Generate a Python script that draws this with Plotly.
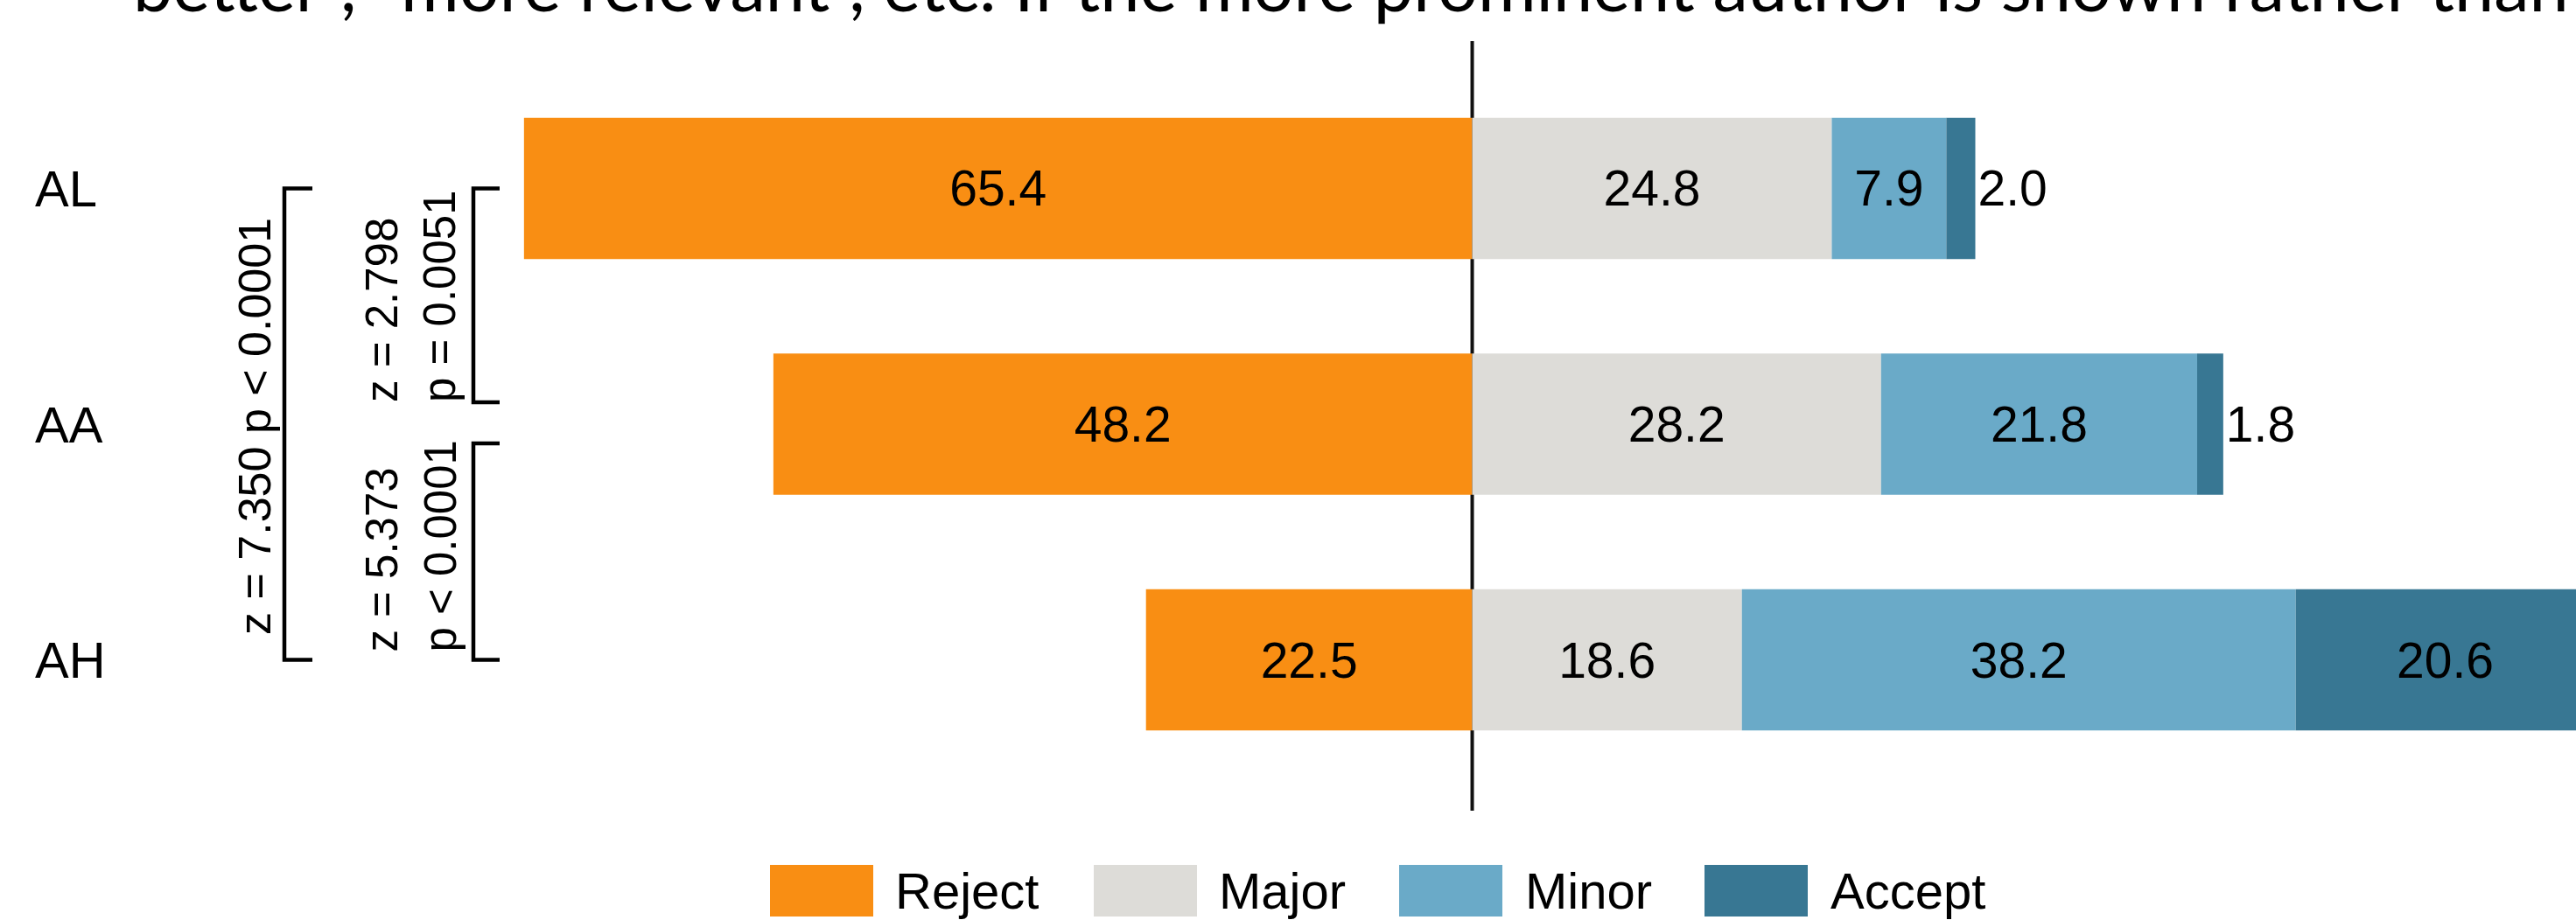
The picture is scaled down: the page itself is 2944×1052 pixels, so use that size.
import plotly.graph_objects as go

# ---------------- data ----------------
categories = ["AL", "AA", "AH"]
reject = [65.4, 48.2, 22.5]
major = [24.8, 28.2, 18.6]
minor = [7.9, 21.8, 38.2]
accept = [2.0, 1.8, 20.6]
series_names = ["Reject", "Major", "Minor", "Accept"]
series_colors = ["#F98E13", "#DDDCD8", "#6AAAC8", "#387793"]
accept_textpos = ["outside", "outside", "inside"]

stat_full = "z = 7.350 p < 0.0001"
stat_top = "z = 2.798<br>p = 0.0051"
stat_bottom = "z = 5.373<br>p < 0.0001"
slide_text = ('better", "more relevant", etc. If the more prominent author is shown '
              'rather than the less prominent author')

# ---------------- geometry ----------------
W, H = 2944, 1052
FONT = "Liberation Sans, Arial, Helvetica, sans-serif"
XMAX = 76.13


def px(x):
    return x / W


def py(y):
    return 1 - y / H


fig = go.Figure()

values = [[-v for v in reject], major, minor, accept]
labels = [reject, major, minor, accept]
annotations = []
for i, name in enumerate(series_names):
    tp = accept_textpos if name == "Accept" else "inside"
    texts = [f"{v:.1f}" for v in labels[i]]
    # labels whose bar runs past the right edge are placed as annotations
    starts = [0.0] * len(categories)
    for j in range(1, i):
        starts = [s + v for s, v in zip(starts, values[j])]
    if i > 0:
        for k, c in enumerate(categories):
            if starts[k] + values[i][k] > XMAX:
                annotations.append(dict(xref="x", yref="y", x=starts[k] + values[i][k] / 2, y=c,
                                        text=texts[k], showarrow=False,
                                        xanchor="center", yanchor="middle",
                                        font=dict(family=FONT, size=57, color="black")))
                texts[k] = ""
    fig.add_trace(go.Bar(
        y=categories,
        x=values[i],
        orientation="h",
        name=name,
        width=0.6,
        marker=dict(color=series_colors[i], line=dict(width=0)),
        text=texts,
        textposition=tp,
        insidetextanchor="middle",
        textangle=0,
        constraintext="none",
        textfont=dict(family=FONT, size=57, color="black"),
        insidetextfont=dict(family=FONT, size=57, color="black"),
        outsidetextfont=dict(family=FONT, size=57, color="black"),
        cliponaxis=False,
        hoverinfo="skip",
        showlegend=False,
    ))

shapes = []
# centre line
shapes.append(dict(type="line", xref="x", yref="paper", x0=0, x1=0,
                   y0=py(927), y1=py(47), layer="below",
                   line=dict(color="#111111", width=4)))


def bracket(xv, xt, ytop, ybot):
    return dict(type="path", xref="paper", yref="y",
                path=f"M {px(xt)},{ytop} L {px(xv)},{ytop} L {px(xv)},{ybot} L {px(xt)},{ybot}",
                line=dict(color="black", width=4.5))


shapes.append(bracket(325, 357, 2, 0))
shapes.append(bracket(541, 571, 2, 1.093))
shapes.append(bracket(541, 571, 0.918, 0))

# category labels
for c in categories:
    annotations.append(dict(xref="paper", yref="y", x=px(38), y=c, text=c,
                            xanchor="left", yanchor="middle", showarrow=False,
                            font=dict(family=FONT, size=58, color="black")))

# statistics
annotations.append(dict(xref="paper", yref="y", x=px(291), y=0.989, text=stat_full,
                        textangle=-90, showarrow=False, xanchor="center", yanchor="middle",
                        font=dict(family=FONT, size=52, color="black")))
annotations.append(dict(xref="paper", yref="y", x=px(470), y=1.542, text=stat_top,
                        textangle=-90, showarrow=False, align="left",
                        xanchor="center", yanchor="middle",
                        font=dict(family=FONT, size=51, color="black")))
annotations.append(dict(xref="paper", yref="y", x=px(470), y=0.482, text=stat_bottom,
                        textangle=-90, showarrow=False, align="left",
                        xanchor="center", yanchor="middle",
                        font=dict(family=FONT, size=51, color="black")))

# manual legend
legend_sq_x = [880, 1250, 1599, 1948]
legend_txt_x = [1021, 1391, 1741, 2090]
for i, name in enumerate(series_names):
    shapes.append(dict(type="rect", xref="paper", yref="paper",
                       x0=px(legend_sq_x[i]), x1=px(legend_sq_x[i] + 118),
                       y0=py(1048), y1=py(989),
                       fillcolor=series_colors[i], line=dict(width=0)))
    annotations.append(dict(xref="paper", yref="paper", x=px(legend_txt_x[i]), y=py(1018),
                            text=name, xanchor="left", yanchor="middle", showarrow=False,
                            font=dict(family=FONT, size=58, color="black")))

# cut-off slide text at the very top
annotations.append(dict(xref="paper", yref="paper", x=px(150), y=1.018, text=slide_text,
                        xanchor="left", yanchor="middle", showarrow=False,
                        font=dict(family="Lato, Open Sans, sans-serif", size=81, color="black")))

fig.update_layout(
    width=W, height=H,
    margin=dict(l=0, r=0, t=0, b=0, pad=0),
    paper_bgcolor="white", plot_bgcolor="white",
    barmode="relative",
    showlegend=False,
    shapes=shapes,
    annotations=annotations,
    xaxis=dict(range=[-101.54, XMAX], visible=False, fixedrange=True),
    yaxis=dict(type="category", categoryorder="array", categoryarray=["AH", "AA", "AL"],
               range=[-1.1039, 2.7996], visible=False, fixedrange=True),
)

fig.write_html("out.html", config={"displayModeBar": False},
               post_script="document.body.style.margin='0';document.body.style.overflow='hidden';")
